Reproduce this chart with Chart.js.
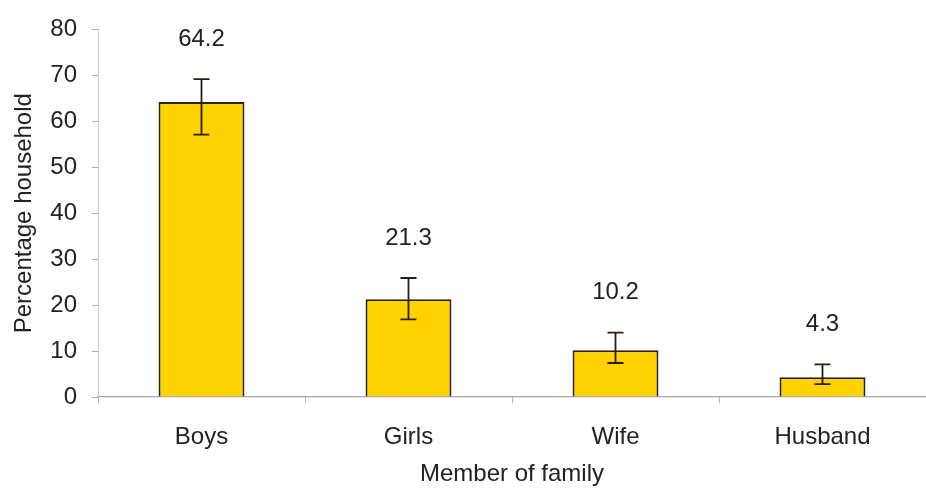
<!doctype html>
<html>
<head>
<script src="https://cdn.jsdelivr.net/npm/chart.js@4"></script>
<style>
  html, body { margin: 0; padding: 0; background: #fff; overflow: hidden; }
  #wrap { width: 926px; height: 491px; }
</style>
<script>
// chart values
var categories = ['Boys', 'Girls', 'Wife', 'Husband'];
var percentages = [64.2, 21.3, 10.2, 4.3];
var errorLow = [57.1, 16.9, 7.4, 2.8];
var errorHigh = [69.2, 25.9, 14.0, 7.1];
var valueLabels = ['64.2', '21.3', '10.2', '4.3'];
var yMin = 0, yMax = 80, yStep = 10;

// error bars with caps, drawn through the y scale
var errorBarPlugin = {
  id: 'errorBars',
  afterDatasetsDraw: function(chart) {
    var ctx = chart.ctx;
    var meta = chart.getDatasetMeta(0);
    var y = chart.scales.y;
    ctx.save();
    ctx.strokeStyle = '#2b1d12';
    ctx.lineWidth = 1.8;
    meta.data.forEach(function(bar, i) {
      var x = bar.x;
      var top = y.getPixelForValue(errorHigh[i]);
      var bot = y.getPixelForValue(errorLow[i]);
      ctx.beginPath();
      ctx.moveTo(x, top); ctx.lineTo(x, bot);
      ctx.moveTo(x - 8, top); ctx.lineTo(x + 8, top);
      ctx.moveTo(x - 8, bot); ctx.lineTo(x + 8, bot);
      ctx.stroke();
    });
    // value labels above the error bars
    ctx.fillStyle = '#222';
    ctx.font = '24px "Liberation Sans", Arial, sans-serif';
    ctx.textAlign = 'center';
    ctx.textBaseline = 'middle';
    meta.data.forEach(function(bar, i) {
      ctx.fillText(valueLabels[i], bar.x, y.getPixelForValue(errorHigh[i]) - 40);
    });
    ctx.restore();
  }
};

function start() {
  var ctx = document.getElementById('family-chart').getContext('2d');
  Chart.defaults.font.family = '"Liberation Sans", Arial, sans-serif';
  Chart.defaults.color = '#222';
  window.familyChart = new Chart(ctx, {
    type: 'bar',
    data: {
      labels: categories,
      datasets: [{
        label: 'Percentage household',
        data: percentages,
        backgroundColor: '#ffd200',
        borderColor: '#2e200e',
        borderWidth: 2,
        barPercentage: 1,
        categoryPercentage: 0.415
      }]
    },
    options: {
      responsive: false,
      animation: false,
      layout: { padding: { top: 27, right: 0, left: 0, bottom: 0 } },
      plugins: { legend: { display: false }, tooltip: { enabled: false } },
      scales: {
        x: {
          offset: true,
          grid: { offset: true, drawOnChartArea: false, color: '#b0b0b0', tickLength: 6 },
          border: { color: '#a8a8a8', width: 1.2 },
          ticks: { font: { size: 24 }, color: '#222', padding: 20 },
          title: { display: true, text: 'Member of family', font: { size: 24 }, color: '#222', padding: { top: 0, bottom: 2 } },
          afterFit: function(scale) { scale.height = 94; }
        },
        y: {
          min: yMin,
          max: yMax,
          ticks: { stepSize: yStep, font: { size: 24 }, color: '#222', padding: 15 },
          grid: { drawOnChartArea: false, color: '#b0b0b0', tickLength: 6 },
          border: { color: '#c8c8c8', width: 1 },
          title: { display: true, text: 'Percentage household', font: { size: 24 }, color: '#222', padding: { top: 10, bottom: 0 } },
          afterFit: function(scale) { scale.width = 98; }
        }
      }
    },
    plugins: [errorBarPlugin]
  });
}
</script>
</head>
<body onload="start()">
<div id="wrap"><canvas id="family-chart" width="926" height="491"></canvas></div>
</body>
</html>
